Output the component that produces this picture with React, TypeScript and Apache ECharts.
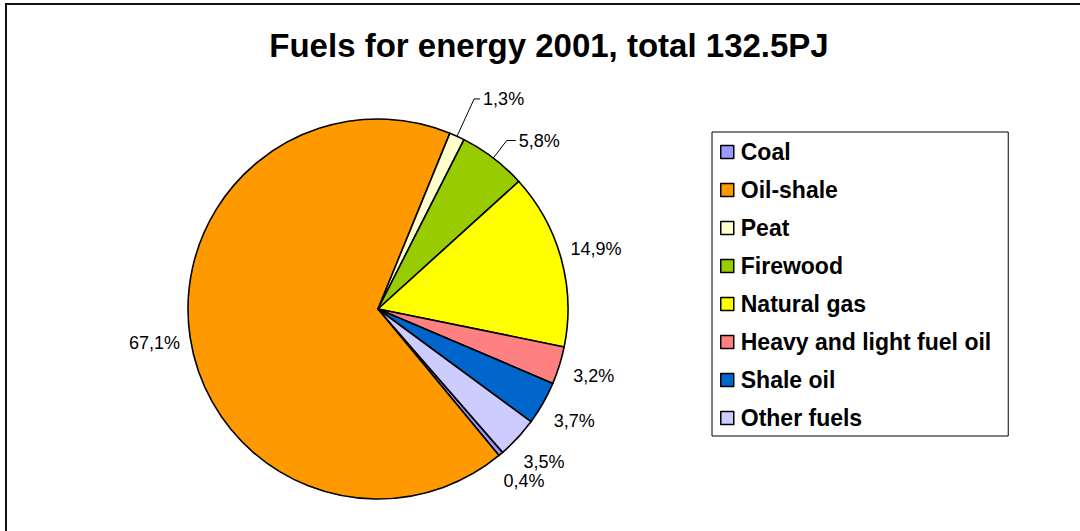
import React, { useEffect, useRef } from "react";
import * as echarts from "echarts";

const titleText = "Fuels for energy 2001, total 132.5PJ";
const categories = [
  "Coal",
  "Oil-shale",
  "Peat",
  "Firewood",
  "Natural gas",
  "Heavy and light fuel oil",
  "Shale oil",
  "Other fuels",
];
const shares = [0.4, 67.1, 1.3, 5.8, 14.9, 3.2, 3.7, 3.5];
const colors = ["#9999FF", "#FF9900", "#FFFFCC", "#99CC00", "#FFFF00", "#FF8080", "#0066CC", "#CCCCFF"];
// labels that Excel moved away and joined with a leader line: [radial length, horizontal length]
const leaderLines: Record<string, [number, number]> = { Peat: [41, 6], Firewood: [22, 9] };

const fmt = (v: number) => v.toFixed(1).replace(".", ",") + "%";

export default function App() {
  const ref = useRef<HTMLDivElement>(null);
  useEffect(() => {
    const chart = echarts.init(ref.current!, null, { renderer: "svg" });
    const font = '"Liberation Sans", Arial, Helvetica, sans-serif';
    const center = [378, 309];
    const startAngle = -49;
    chart.setOption({
      animation: false,
      backgroundColor: "#ffffff",
      textStyle: { fontFamily: font },
      title: {
        text: titleText,
        left: 549,
        top: 29,
        textAlign: "center",
        padding: 0,
        textStyle: { fontFamily: font, fontSize: 33, fontWeight: "bold", color: "#000" },
      },
      legend: {
        orient: "vertical",
        left: 712,
        top: 132,
        data: categories,
        backgroundColor: "#fff",
        borderColor: "#000",
        borderWidth: 1,
        padding: [8, 17, 6, 8],
        itemWidth: 13,
        itemHeight: 13,
        itemGap: 14,
        icon: "rect",
        selectedMode: false,
        itemStyle: { borderColor: "#000", borderWidth: 1.5 },
        textStyle: { fontFamily: font, fontSize: 23, fontWeight: "bold", color: "#000", lineHeight: 24, padding: [0, 0, 0, 2] },
      },
      graphic: [
        {
          type: "rect",
          silent: true,
          z: 100,
          shape: { x: 6, y: 4, width: 1200, height: 700 },
          style: { fill: "none", stroke: "#111", lineWidth: 2 },
        },
      ],
      series: [
        {
          type: "pie",
          center,
          radius: 190,
          startAngle,
          clockwise: true,
          avoidLabelOverlap: false,
          emphasis: { disabled: true },
          itemStyle: { borderColor: "#000", borderWidth: 1.6 },
          label: {
            show: false,
            position: "outside",
            formatter: (p: any) => fmt(p.value),
            fontFamily: font,
            fontSize: 18,
            color: "#000",
            distanceToLabelLine: 3,
          },
          labelLine: { show: false, lineStyle: { color: "#000", width: 1 } },
          data: categories.map((name, i) => {
            const ll = leaderLines[name];
            return {
              name,
              value: shares[i],
              itemStyle: { color: colors[i] },
              label: { show: !!ll },
              labelLine: ll ? { show: true, length: ll[0], length2: ll[1] } : { show: false },
            };
          }),
        },
        {
          type: "pie",
          center,
          radius: [213, 233],
          startAngle,
          clockwise: true,
          silent: true,
          avoidLabelOverlap: false,
          emphasis: { disabled: true },
          itemStyle: { color: "rgba(0,0,0,0)", borderWidth: 0 },
          label: {
            position: "inside",
            formatter: (p: any) => fmt(p.value),
            fontFamily: font,
            fontSize: 18,
            color: "#000",
            textBorderWidth: 0,
          },
          labelLine: { show: false },
          data: categories.map((name, i) => ({
            name,
            value: shares[i],
            label: { show: !leaderLines[name] },
          })),
        },
      ],
    });
    return () => chart.dispose();
  }, []);
  return <div ref={ref} style={{ position: "fixed", left: 0, top: 0, width: 1080, height: 531 }} />;
}
